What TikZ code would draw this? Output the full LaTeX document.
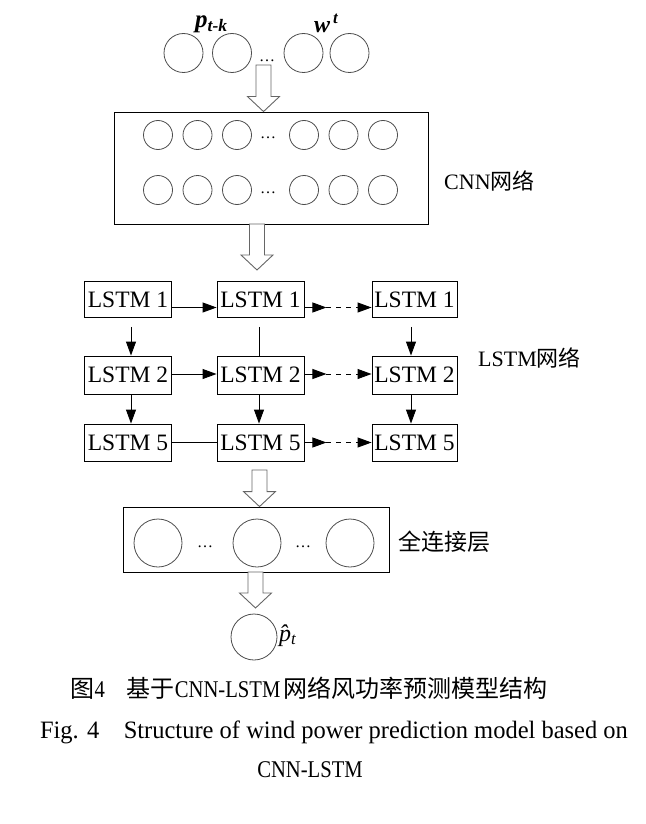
\documentclass[tikz,border=0pt]{standalone}
\usepackage{fontspec}
\setmainfont{Liberation Serif}
\newfontfamily\cjk{Noto Sans CJK SC}
\usetikzlibrary{arrows.meta,calc}
\newcommand\hollowarrow[2]{%
  \draw[harr] let \p1=(#1),\p2=(#2) in
   (\x1-7.5pt,\y1) -- (\x1-7.5pt,\y2+15pt) -- (\x1-16pt,\y2+15pt) -- (\x1,\y2)
   -- (\x1+16pt,\y2+15pt) -- (\x1+7.5pt,\y2+15pt) -- (\x1+7.5pt,\y1) -- cycle;}
\begin{document}
\begin{tikzpicture}[x=1pt,y=-1pt,
  circ/.style={circle,draw=black!70,line width=0.8pt,inner sep=0pt},
  lstm/.style={draw,line width=0.9pt,minimum width=87pt,minimum height=36pt,inner sep=0pt,font=\fontsize{23.5}{25}\selectfont},
  box/.style={draw,line width=0.9pt,inner sep=0pt},
  arr/.style={-{Triangle[length=14pt,width=10pt]},line width=0.9pt},
  conn/.style={line width=0.9pt},
  dsh/.style={arr,dash pattern=on 5pt off 5pt},
  harr/.style={draw=black!60,line width=0.9pt,fill=white},
  lbl/.style={font=\fontsize{22}{24}\selectfont,anchor=west,inner sep=0pt},
  dts/.style={font=\fontsize{16}{18}\selectfont,inner sep=0pt},
  captxt/.style={inner sep=0pt},
]
\useasboundingbox (0,0) rectangle (645,824);
% input layer
\node[circ,minimum size=39pt] (i1) at (183.5,53) {};
\node[circ,minimum size=39pt] (i2) at (232,53) {};
\node[dts] (idots) at (267,61) {…};
\node[circ,minimum size=39pt] (i3) at (303.5,53) {};
\node[circ,minimum size=39pt] (i4) at (349.5,53) {};
\node[anchor=base west,inner sep=0pt] (pl) at (195,28) {\fontsize{25}{27}\selectfont\bfseries\itshape p\textsubscript{t-k}};
\node[anchor=base west,inner sep=0pt] (wl) at (314,33) {\fontsize{24}{26}\selectfont\bfseries\itshape w\textsuperscript{\,t}};
% CNN
\node[box,minimum width=314pt,minimum height=112pt] (cnn) at (271,168) {};
\foreach \r/\y in {1/135,2/190}{
  \foreach \c/\x in {1/158,2/197.5,3/237,4/304,5/343.5,6/383}
    \node[circ,minimum size=29pt] (c\r\c) at (\x,\y) {};
  \node[dts] (cd\r) at (268,\y+3) {…};
}
\node[lbl] (cnnl) at (444,181) {CNN{\cjk 网络}};
\coordinate (h1s) at (263.5,65);
\hollowarrow{h1s}{h1s |- cnn.north}
\coordinate (h2s) at (257,224);
\coordinate (h2e) at (257,270);
\hollowarrow{h2s}{h2e}
% LSTM
\node[lstm] (l11) at (128,299.5) {LSTM 1};
\node[lstm] (l12) at (260.5,299.5) {LSTM 1};
\node[lstm,minimum width=85pt] (l13) at (414.5,299.5) {LSTM 1};
\node[lstm,minimum height=38pt] (l21) at (128,375) {LSTM 2};
\node[lstm,minimum height=38pt] (l22) at (260.5,375) {LSTM 2};
\node[lstm,minimum height=38pt,minimum width=85pt] (l23) at (414.5,375) {LSTM 2};
\node[lstm,minimum height=37pt] (l31) at (128,442.5) {LSTM 5};
\node[lstm,minimum height=37pt] (l32) at (260.5,442.5) {LSTM 5};
\node[lstm,minimum height=37pt,minimum width=85pt] (l33) at (414.5,442.5) {LSTM 5};
\node[lbl] (lstml) at (478,358) {LSTM{\cjk 网络}};
% horizontal
\draw[arr] ($(l11.east)+(0,8)$) -- ($(l12.west)+(0,8)$);
\coordinate (m1) at ($(l12.east)+(22,8)$);
\draw[arr] ($(l12.east)+(0,8)$) -- (m1);
\draw[dsh] (m1) -- ($(l13.west)+(0,8)$);
\draw[arr] ($(l21.east)+(0,-1)$) -- ($(l22.west)+(0,-1)$);
\coordinate (m2) at ($(l22.east)+(22,-1)$);
\draw[arr] ($(l22.east)+(0,-1)$) -- (m2);
\draw[dsh] (m2) -- ($(l23.west)+(0,-1)$);
\draw[conn] (l31.east) -- (l32.west);
\coordinate (m3) at ($(l32.east)+(22,0)$);
\draw[arr] (l32.east) -- (m3);
\draw[dsh] (m3) -- (l33.west);
% vertical
\draw[arr] ($(l11.south)+(3,9)$) -- ($(l21.north)+(3,0)$);
\draw[conn] ($(l12.south)+(-1.5,9)$) -- ($(l22.north)+(-1.5,0)$);
\draw[arr] ($(l13.south)+(-3.5,9)$) -- ($(l23.north)+(-3.5,0)$);
\draw[arr] ($(l21.south)+(3,0)$) -- ($(l31.north)+(3,0)$);
\draw[arr] ($(l22.south)+(-1.5,0)$) -- ($(l32.north)+(-1.5,0)$);
\draw[arr] ($(l23.south)+(-3.5,0)$) -- ($(l33.north)+(-3.5,0)$);
% fully connected
\node[box,minimum width=266pt,minimum height=65pt] (fc) at (256,539.5) {};
\node[circ,minimum size=48pt] (f1) at (158,543) {};
\node[circ,minimum size=48pt] (f2) at (257,543) {};
\node[circ,minimum size=48pt] (f3) at (350,543) {};
\node[dts] (fd1) at (205,547) {…};
\node[dts] (fd2) at (303,547) {…};
\node[lbl,font=\cjk\fontsize{23}{25}\selectfont] (fcl) at (398,542) {全连接层};
\coordinate (h3s) at (259.5,470);
\hollowarrow{h3s}{h3s |- fc.north}
% output
\node[circ,minimum size=46pt] (o) at (254,637) {};
\coordinate (h4s) at (255.5,572);
\coordinate (h4e) at (255.5,608);
\hollowarrow{h4s}{h4e}
\node[anchor=base west,inner sep=0pt,font=\fontsize{24}{26}\selectfont] (ol) at (279,641) {\itshape\^{p}\textsubscript{t}};
% captions
\node[captxt] (cap1) at (309,688) {\fontsize{24}{26}\selectfont{\cjk 图}\scalebox{0.86}[1]{4}\hspace{22pt}{\cjk 基于}\scalebox{0.86}[1]{CNN-LSTM}\hspace{3pt}{\cjk 网络风功率预测模型结构}};
\node[captxt] (cap2) at (334,732) {\fontsize{25}{27}\selectfont\scalebox{0.98}[1]{Fig. 4\hspace{1em}Structure of wind power prediction model based on}};
\node[captxt] (cap3) at (310,770) {\fontsize{24}{26}\selectfont\scalebox{0.86}[1]{CNN-LSTM}};
\end{tikzpicture}
\end{document}
